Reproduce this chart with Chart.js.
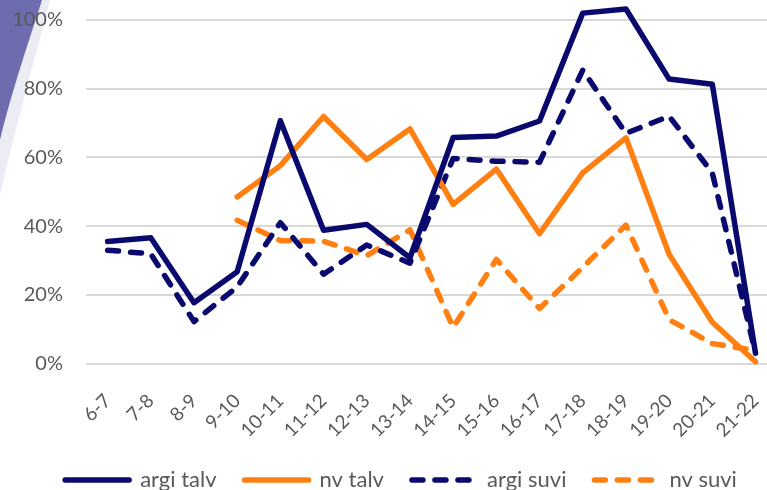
<!DOCTYPE html>
<html>
<head>
<meta charset="utf-8">
<script src="https://cdn.jsdelivr.net/npm/chart.js@4/dist/chart.umd.min.js"></script>
<style>
  html, body { margin: 0; padding: 0; background: #fff; }
  #wrap { position: relative; width: 767px; height: 490px; overflow: hidden; }
  #deco { position: absolute; left: 0; top: 0; }
  #chart { position: absolute; left: 0; top: 0; }
</style>
</head>
<body>
<div id="wrap">
  <svg id="deco" width="767" height="490">
    <path d="M0,0 L50,0 C36,55 16,125 0,195 Z" fill="#ececf5"/>
    <path d="M0,0 L42,0 C30,38 12,90 0,140 Z" fill="#6c6cae"/>
  </svg>
  <canvas id="chart" width="790" height="501"></canvas>
</div>
<script>
// seasons on the x axis
const seasons = ['6-7', '7-8', '8-9', '9-10', '10-11', '11-12', '12-13', '13-14',
                 '14-15', '15-16', '16-17', '17-18', '18-19', '19-20', '20-21', '21-22'];

// shares in percent, null where the series has no value yet
const argiTalv = [35.5, 36.6, 17.7, 26.7, 70.7, 38.8, 40.5, 30.8, 65.8, 66.2, 70.6, 102, 103.2, 82.8, 81.3, 3];
const nvTalv   = [null, null, null, 48.5, 57.6, 71.9, 59.4, 68.3, 46.3, 56.6, 37.8, 55.5, 65.7, 31.8, 12, 0.5];
const argiSuvi = [33, 31.9, 12.2, 22.3, 41, 26, 34.5, 29.2, 59.7, 58.9, 58.6, 85.4, 67, 72, 55.5, 3];
const nvSuvi   = [null, null, null, 41.7, 35.8, 35.6, 31.4, 38.9, 10.5, 30.3, 16, 28, 40.3, 12.8, 5.8, 3.8];

const yTicks = [0, 20, 40, 60, 80, 100];

const NAVY = '#0a0a6e';
const ORANGE = '#ff7f11';
const GREY = '#595959';
const DASH = [11, 12];
const LINE_W = 5.5;

function series(label, data, color, dash) {
    return {
        label: label,
        data: data,
        borderColor: color,
        backgroundColor: color,
        borderWidth: LINE_W,
        borderDash: dash || [],
        borderCapStyle: 'round',
        borderJoinStyle: 'round',
        pointRadius: 0,
        tension: 0,
        fill: false,
        clip: false
    };
}

// drop the extra label padding the scales reserve around the plot
function noScalePadding(scale) {
    scale.paddingTop = 0;
    scale.paddingBottom = 0;
}

// nudge the legend a little to the right of the canvas centre
const legendShift = {
    id: 'legendShift',
    afterLayout(chart) {
        chart.legend.left += 12;
        chart.legend.right += 12;
    }
};

new Chart(document.getElementById('chart').getContext('2d'), {
    type: 'line',
    data: {
        labels: seasons,
        datasets: [
            series('argi talv', argiTalv, NAVY),
            series('nv talv', nvTalv, ORANGE),
            series('argi suvi', argiSuvi, NAVY, DASH),
            series('nv suvi', nvSuvi, ORANGE, DASH)
        ]
    },
    options: {
        responsive: false,
        animation: false,
        devicePixelRatio: 1,
        layout: { padding: { top: 20, left: 0, right: 12, bottom: 0 } },
        scales: {
            x: {
                offset: true,
                grid: { display: false },
                border: { display: false },
                ticks: {
                    autoSkip: false,
                    minRotation: 45,
                    maxRotation: 45,
                    padding: 18,
                    color: GREY,
                    font: { family: 'Lato', size: 19 }
                },
                afterFit: function (scale) {
                    scale.height = 77.5;
                    noScalePadding(scale);
                }
            },
            y: {
                min: yTicks[0],
                max: yTicks[yTicks.length - 1],
                afterBuildTicks: function (scale) {
                    scale.ticks = yTicks.map(v => ({ value: v }));
                },
                ticks: {
                    padding: 23,
                    color: GREY,
                    font: { family: 'Lato', size: 20 },
                    callback: v => v + '%'
                },
                grid: { color: '#d9d9d9', lineWidth: 2, drawTicks: false },
                border: { display: false },
                afterFit: function (scale) {
                    scale.width = 86;
                    noScalePadding(scale);
                }
            }
        },
        plugins: {
            legend: {
                position: 'bottom',
                labels: {
                    usePointStyle: true,
                    pointStyle: 'line',
                    pointStyleWidth: 64,
                    padding: 28,
                    color: GREY,
                    font: { family: 'Lato', size: 22 },
                    // point-style legend items lose the dash, so copy it from the dataset
                    generateLabels(chart) {
                        const items = Chart.defaults.plugins.legend.labels.generateLabels(chart);
                        items.forEach(item => {
                            const ds = chart.data.datasets[item.datasetIndex];
                            item.lineDash = ds.borderDash;
                            item.lineCap = 'round';
                            item.lineWidth = LINE_W;
                        });
                        return items;
                    }
                }
            },
            tooltip: { enabled: false }
        }
    },
    plugins: [legendShift]
});
</script>
</body>
</html>
